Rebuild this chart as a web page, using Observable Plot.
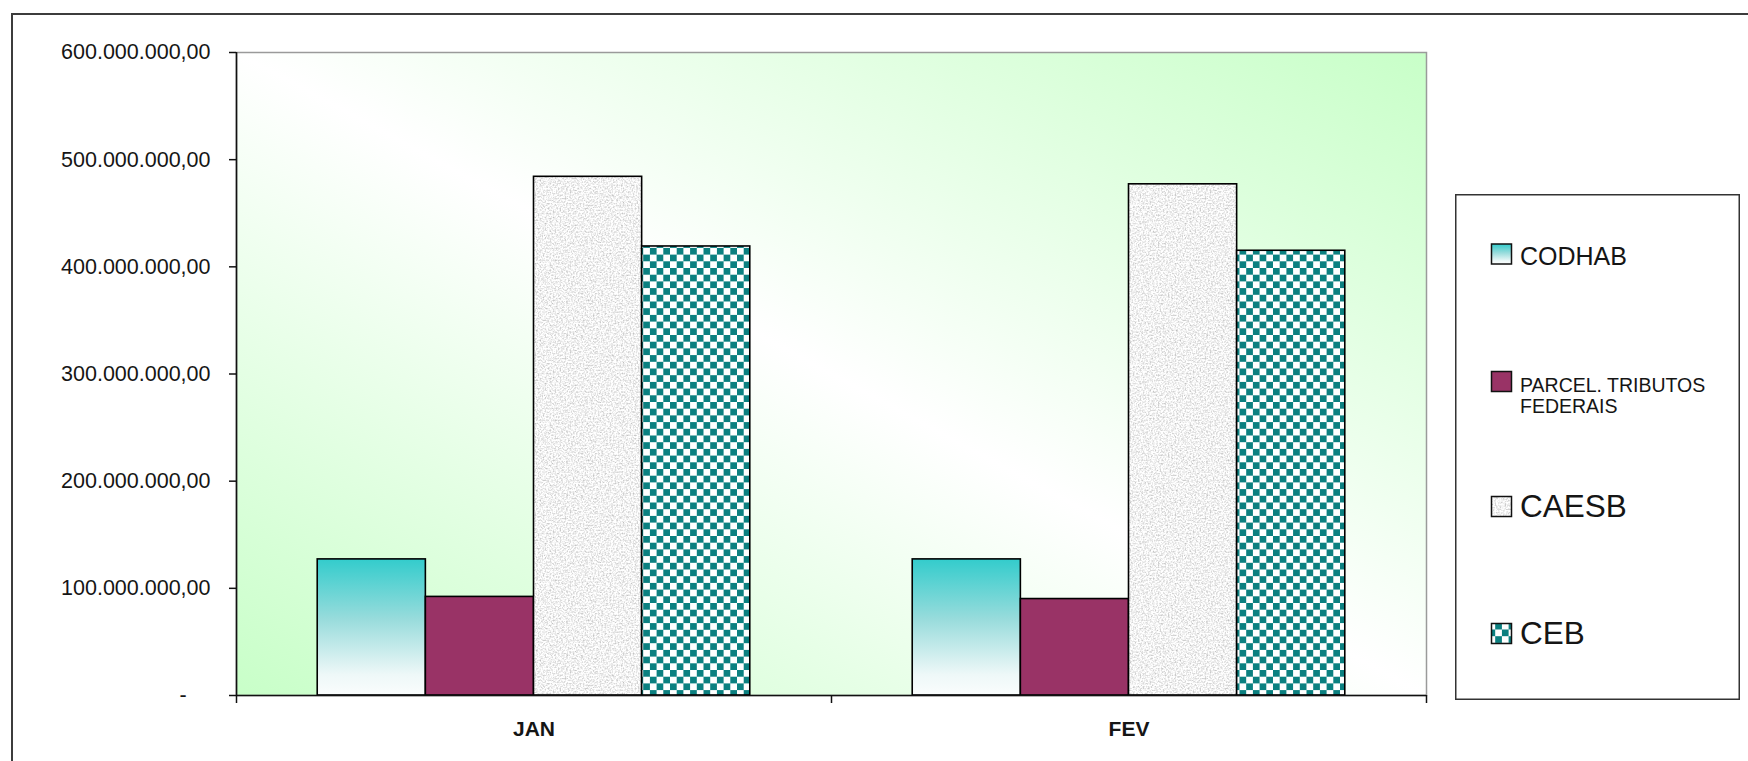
<!DOCTYPE html>
<html>
<head>
<meta charset="utf-8">
<script src="https://cdn.jsdelivr.net/npm/d3@7"></script>
<script src="https://cdn.jsdelivr.net/npm/@observablehq/plot@0.6"></script>
<style>
  html, body { margin: 0; padding: 0; background: #fff; overflow: hidden; width: 1748px; height: 761px; }
  #wrap { position: relative; width: 1748px; height: 761px; }
  #chart { position: absolute; left: 0; top: 0; }
  #outer { position: absolute; left: 11px; top: 13px; width: 1800px; height: 800px;
           border-left: 2px solid #3c3c3c; border-top: 2px solid #3c3c3c; pointer-events: none; }
  #legend { position: absolute; left: 1455px; top: 194px; overflow: visible; }
</style>
</head>
<body>
<div id="wrap">
  <div id="chart"></div>
  <svg id="legend" width="285" height="506"></svg>
  <div id="outer"></div>
</div>
<script>
// ---- data ----
const months = ["JAN", "FEV"];
const series = ["CODHAB", "PARCEL. TRIBUTOS FEDERAIS", "CAESB", "CEB"];
const codhab = [127e6, 127e6];
const parcelTributos = [92e6, 90e6];
const caesb = [484e6, 477e6];
const ceb = [419e6, 415e6];
const yTicks = [0, 100e6, 200e6, 300e6, 400e6, 500e6, 600e6];

// ---- styling / layout ----
const seriesFill = {
  "CODHAB": "url(#gCodhab)",
  "PARCEL. TRIBUTOS FEDERAIS": "#993366",
  "CAESB": "url(#pGranite)",
  "CEB": "url(#pChecker)"
};
const legendLines = {
  "CODHAB": ["CODHAB"],
  "PARCEL. TRIBUTOS FEDERAIS": ["PARCEL. TRIBUTOS", "FEDERAIS"],
  "CAESB": ["CAESB"],
  "CEB": ["CEB"]
};
const legendSize = {"CODHAB": 25, "PARCEL. TRIBUTOS FEDERAIS": 19.5, "CAESB": 31.5, "CEB": 31.5};
const GAP = 0.1365;                 // fraction of a category slot left empty at each side
const BAR = (1 - 2 * GAP) / 4;      // fraction of a category slot per bar

const valuesBySeries = [codhab, parcelTributos, caesb, ceb];
const rows = [];
months.forEach((m, mi) => {
  series.forEach((s, si) => {
    rows.push({
      month: m,
      series: s,
      value: valuesBySeries[si][mi],
      x1: mi + GAP + si * BAR,
      x2: mi + GAP + (si + 1) * BAR,
      fill: seriesFill[s]
    });
  });
});

const locale = d3.formatLocale({decimal: ",", thousands: ".", grouping: [3], currency: ["R$", ""]});
const fmt = locale.format(",.2f");
const yFormat = d => d === 0 ? "-\u00a0\u00a0\u00a0\u00a0" : fmt(d);

const FONT = "'Liberation Sans', Arial, Helvetica, sans-serif";

const chart = Plot.plot({
  width: 1748,
  height: 761,
  marginLeft: 236,
  marginRight: 322,
  marginTop: 52,
  marginBottom: 66,
  style: {fontFamily: FONT, fontSize: "21.5px", color: "#151515", background: "transparent", overflow: "visible"},
  x: {type: "linear", domain: [0, months.length], label: null},
  y: {domain: [0, 600e6], label: null},
  color: {type: "identity"},
  marks: [
    Plot.frame({fill: "url(#gBg)", stroke: "#9a9a9a", strokeWidth: 1.5}),
    Plot.rect(rows, {
      x1: "x1", x2: "x2", y1: () => 0, y2: "value",
      fill: "fill", stroke: "#000", strokeWidth: 1.6
    }),
    Plot.ruleY([0], {stroke: "#111", strokeWidth: 1.6}),
    Plot.ruleX([0], {stroke: "#111", strokeWidth: 1.6}),
    Plot.axisY(yTicks, {tickSize: 7, tickPadding: 19, tickFormat: yFormat, stroke: "#111", strokeWidth: 1.5, label: null}),
    Plot.axisX(d3.range(months.length + 1), {tickSize: 8, tickFormat: () => "", stroke: "#111", strokeWidth: 1.5, label: null}),
    Plot.axisX(months.map((m, i) => i + 0.5), {
      tickSize: 0, tickPadding: 26, tickFormat: d => months[Math.floor(d)],
      fontWeight: "bold", fontSize: 21, label: null
    })
  ]
});
document.getElementById("chart").appendChild(chart);

// ---- paint servers (gradients / textures) ----
const svg = d3.select(chart);
const defs = svg.insert("defs", ":first-child");

const bg = defs.append("linearGradient").attr("id", "gBg")
  .attr("x1", 0).attr("y1", 1).attr("x2", 1).attr("y2", 0);
bg.append("stop").attr("offset", 0).attr("stop-color", "#c8ffc8");
bg.append("stop").attr("offset", 0.5).attr("stop-color", "#ffffff");
bg.append("stop").attr("offset", 1).attr("stop-color", "#c8ffc8");

const gc = defs.append("linearGradient").attr("id", "gCodhab")
  .attr("x1", 0).attr("y1", 0).attr("x2", 0).attr("y2", 1);
gc.append("stop").attr("offset", 0).attr("stop-color", "#33cccc");
gc.append("stop").attr("offset", 0.45).attr("stop-color", "#9adcdc");
gc.append("stop").attr("offset", 0.85).attr("stop-color", "#eef8f8");
gc.append("stop").attr("offset", 1).attr("stop-color", "#fafdfd");

const flt = defs.append("filter").attr("id", "fNoise")
  .attr("x", 0).attr("y", 0).attr("width", 1).attr("height", 1)
  .attr("color-interpolation-filters", "sRGB");
flt.append("feTurbulence").attr("type", "fractalNoise").attr("baseFrequency", 0.6)
  .attr("numOctaves", 3).attr("seed", 5).attr("stitchTiles", "stitch");
flt.append("feColorMatrix").attr("type", "matrix")
  .attr("values", "0.5 0 0 0 0.7  0.5 0 0 0 0.7  0.5 0 0 0 0.7  0 0 0 0 1");

const pg = defs.append("pattern").attr("id", "pGranite")
  .attr("patternUnits", "userSpaceOnUse").attr("width", 160).attr("height", 160);
pg.append("rect").attr("width", 160).attr("height", 160).attr("fill", "#ececec").attr("filter", "url(#fNoise)");

const CH = 6.7;
const pc = defs.append("pattern").attr("id", "pChecker")
  .attr("patternUnits", "userSpaceOnUse").attr("width", 2 * CH).attr("height", 2 * CH);
pc.append("rect").attr("width", 2 * CH).attr("height", 2 * CH).attr("fill", "#ffffff");
pc.append("rect").attr("width", CH).attr("height", CH).attr("fill", "#0b8080");
pc.append("rect").attr("x", CH).attr("y", CH).attr("width", CH).attr("height", CH).attr("fill", "#0b8080");

// ---- legend (right side) ----
const lg = d3.select("#legend").style("font-family", FONT);
lg.append("rect").attr("x", 0.75).attr("y", 0.75).attr("width", 283.5).attr("height", 504.5)
  .attr("fill", "#fff").attr("stroke", "#333").attr("stroke-width", 1.5);
const itemBase = [70.5, 198, 323, 450];
series.forEach((s, i) => {
  const base = itemBase[i];
  lg.append("rect").attr("x", 36.5).attr("y", base - 20.5).attr("width", 20).attr("height", 20)
    .attr("fill", seriesFill[s]).attr("stroke", "#111").attr("stroke-width", 1.5);
  const size = legendSize[s];
  const t = lg.append("text").attr("x", 65).attr("y", base).attr("font-size", size).attr("fill", "#151515");
  legendLines[s].forEach((line, li) => {
    t.append("tspan").attr("x", 65).attr("dy", li === 0 ? 0 : size * 1.08).text(line);
  });
});
</script>
</body>
</html>
